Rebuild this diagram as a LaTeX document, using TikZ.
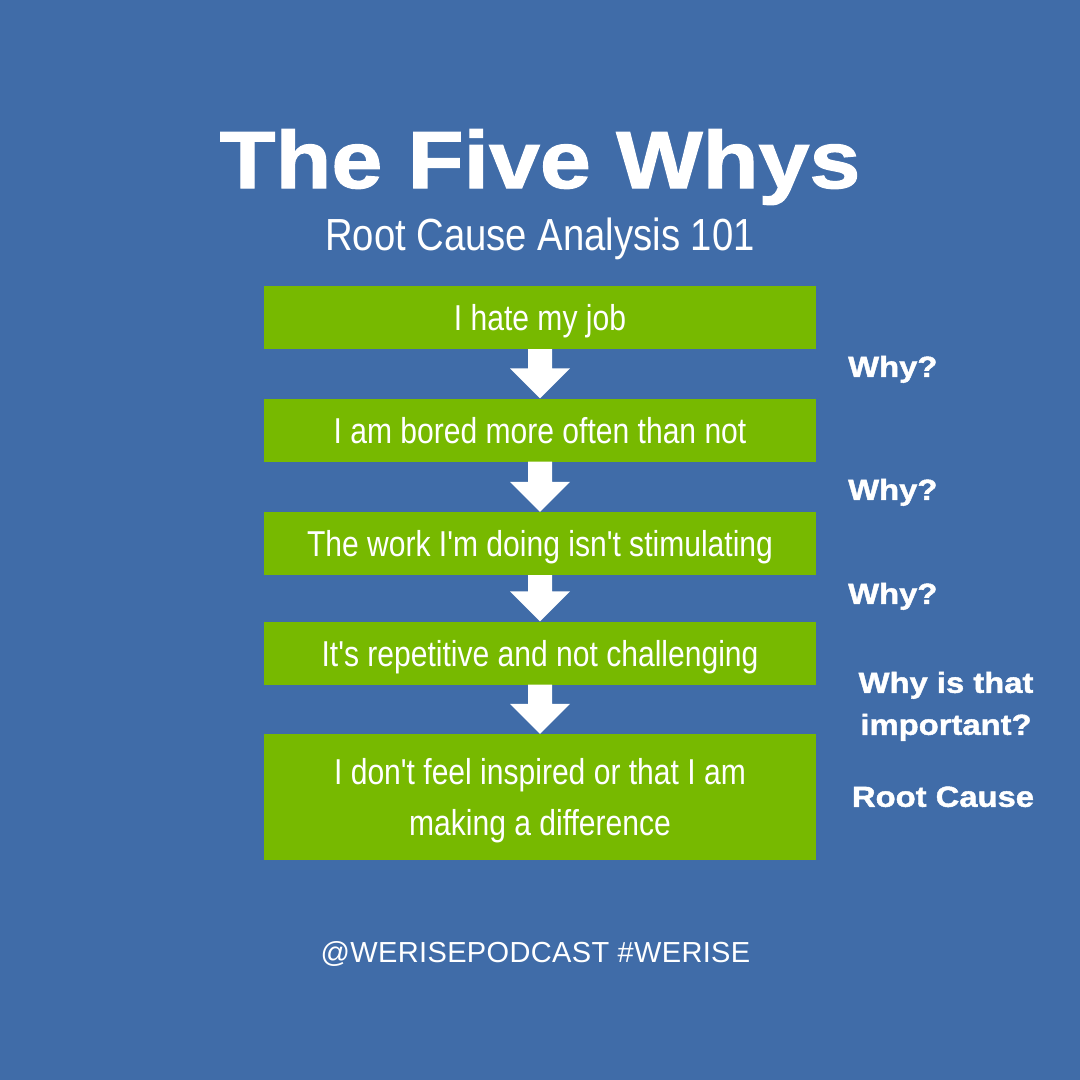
\documentclass[tikz,border=0pt]{standalone}
\usepackage{fontspec}
\setmainfont{Liberation Sans}
\newfontfamily\heavyfont[FakeStretch=1.13,FakeBold=1.5]{Liberation Sans Bold}
\newfontfamily\narrowfont[FakeStretch=0.835]{Liberation Sans}
\newfontfamily\subfont[FakeStretch=0.85]{Liberation Sans}
\newfontfamily\tagfont[LetterSpace=1.2]{Liberation Sans}
\usepackage{tikz}
\usetikzlibrary{calc}
\definecolor{WRBlue}{RGB}{64,108,168}
\definecolor{WRGreen}{RGB}{119,185,0}

\begin{document}
\begin{tikzpicture}[x=1pt, y=-1pt,
    whybox/.style={fill=WRGreen, minimum width=552pt, minimum height=63pt, inner sep=0pt,
      text=white, align=center, text height=26pt, text depth=0pt,
      font=\narrowfont\fontsize{36}{51}\selectfont},
    whylabel/.style={text=white, inner sep=0pt, text depth=0pt, align=center,
      font=\heavyfont\fontsize{29}{42}\selectfont}]
    % 背景
    \fill[WRBlue] (0,0) rectangle (1080,1080);
    \useasboundingbox (0,0) rectangle (1080,1080);

    % 标题
    \node[text=white, anchor=base, font=\heavyfont\fontsize{81}{90}\selectfont] (title) at (540,188) {The Five Whys};
    \node[text=white, anchor=base, font=\subfont\fontsize{45}{50}\selectfont] (subtitle) at (540,250) {Root Cause Analysis 101};

    % 五个方框
    \node[whybox] (b1) at (540,317.5) {I hate my job};
    \node[whybox] (b2) at (540,430) {I am bored more often than not};
    \node[whybox] (b3) at (540,543.5) {The work I'm doing isn't stimulating};
    \node[whybox] (b4) at (540,653) {It's repetitive and not challenging};
    \node[whybox, minimum height=126pt, text height=77pt] (b5) at (540,797) {I don't feel inspired or that I am\\making a difference};

    % 白色箭头
    \foreach \a/\b in {b1/b2, b2/b3, b3/b4, b4/b5}
      \fill[white] ($(\a.south)+(-12,0)$) -- ($(\b.north)+(-12,-30)$) -- ($(\b.north)+(-30,-30)$)
        -- (\b.north) -- ($(\b.north)+(30,-30)$) -- ($(\b.north)+(12,-30)$) -- ($(\a.south)+(12,0)$) -- cycle;

    % 右侧标注
    \node[whylabel, anchor=south west] (w1) at (848,377) {Why?};
    \node[whylabel, anchor=south west] (w2) at (848,500) {Why?};
    \node[whylabel, anchor=south west] (w3) at (848,604) {Why?};
    \node[whylabel, anchor=south] (w4) at (946,735) {Why is that\\important?};
    \node[whylabel, anchor=south] (w5) at (943,807) {Root Cause};

    % 页脚
    \node[text=white, anchor=base, font=\tagfont\fontsize{29}{34}\selectfont] (tag) at (535.5,962) {@WERISEPODCAST \#WERISE};
\end{tikzpicture}
\end{document}
